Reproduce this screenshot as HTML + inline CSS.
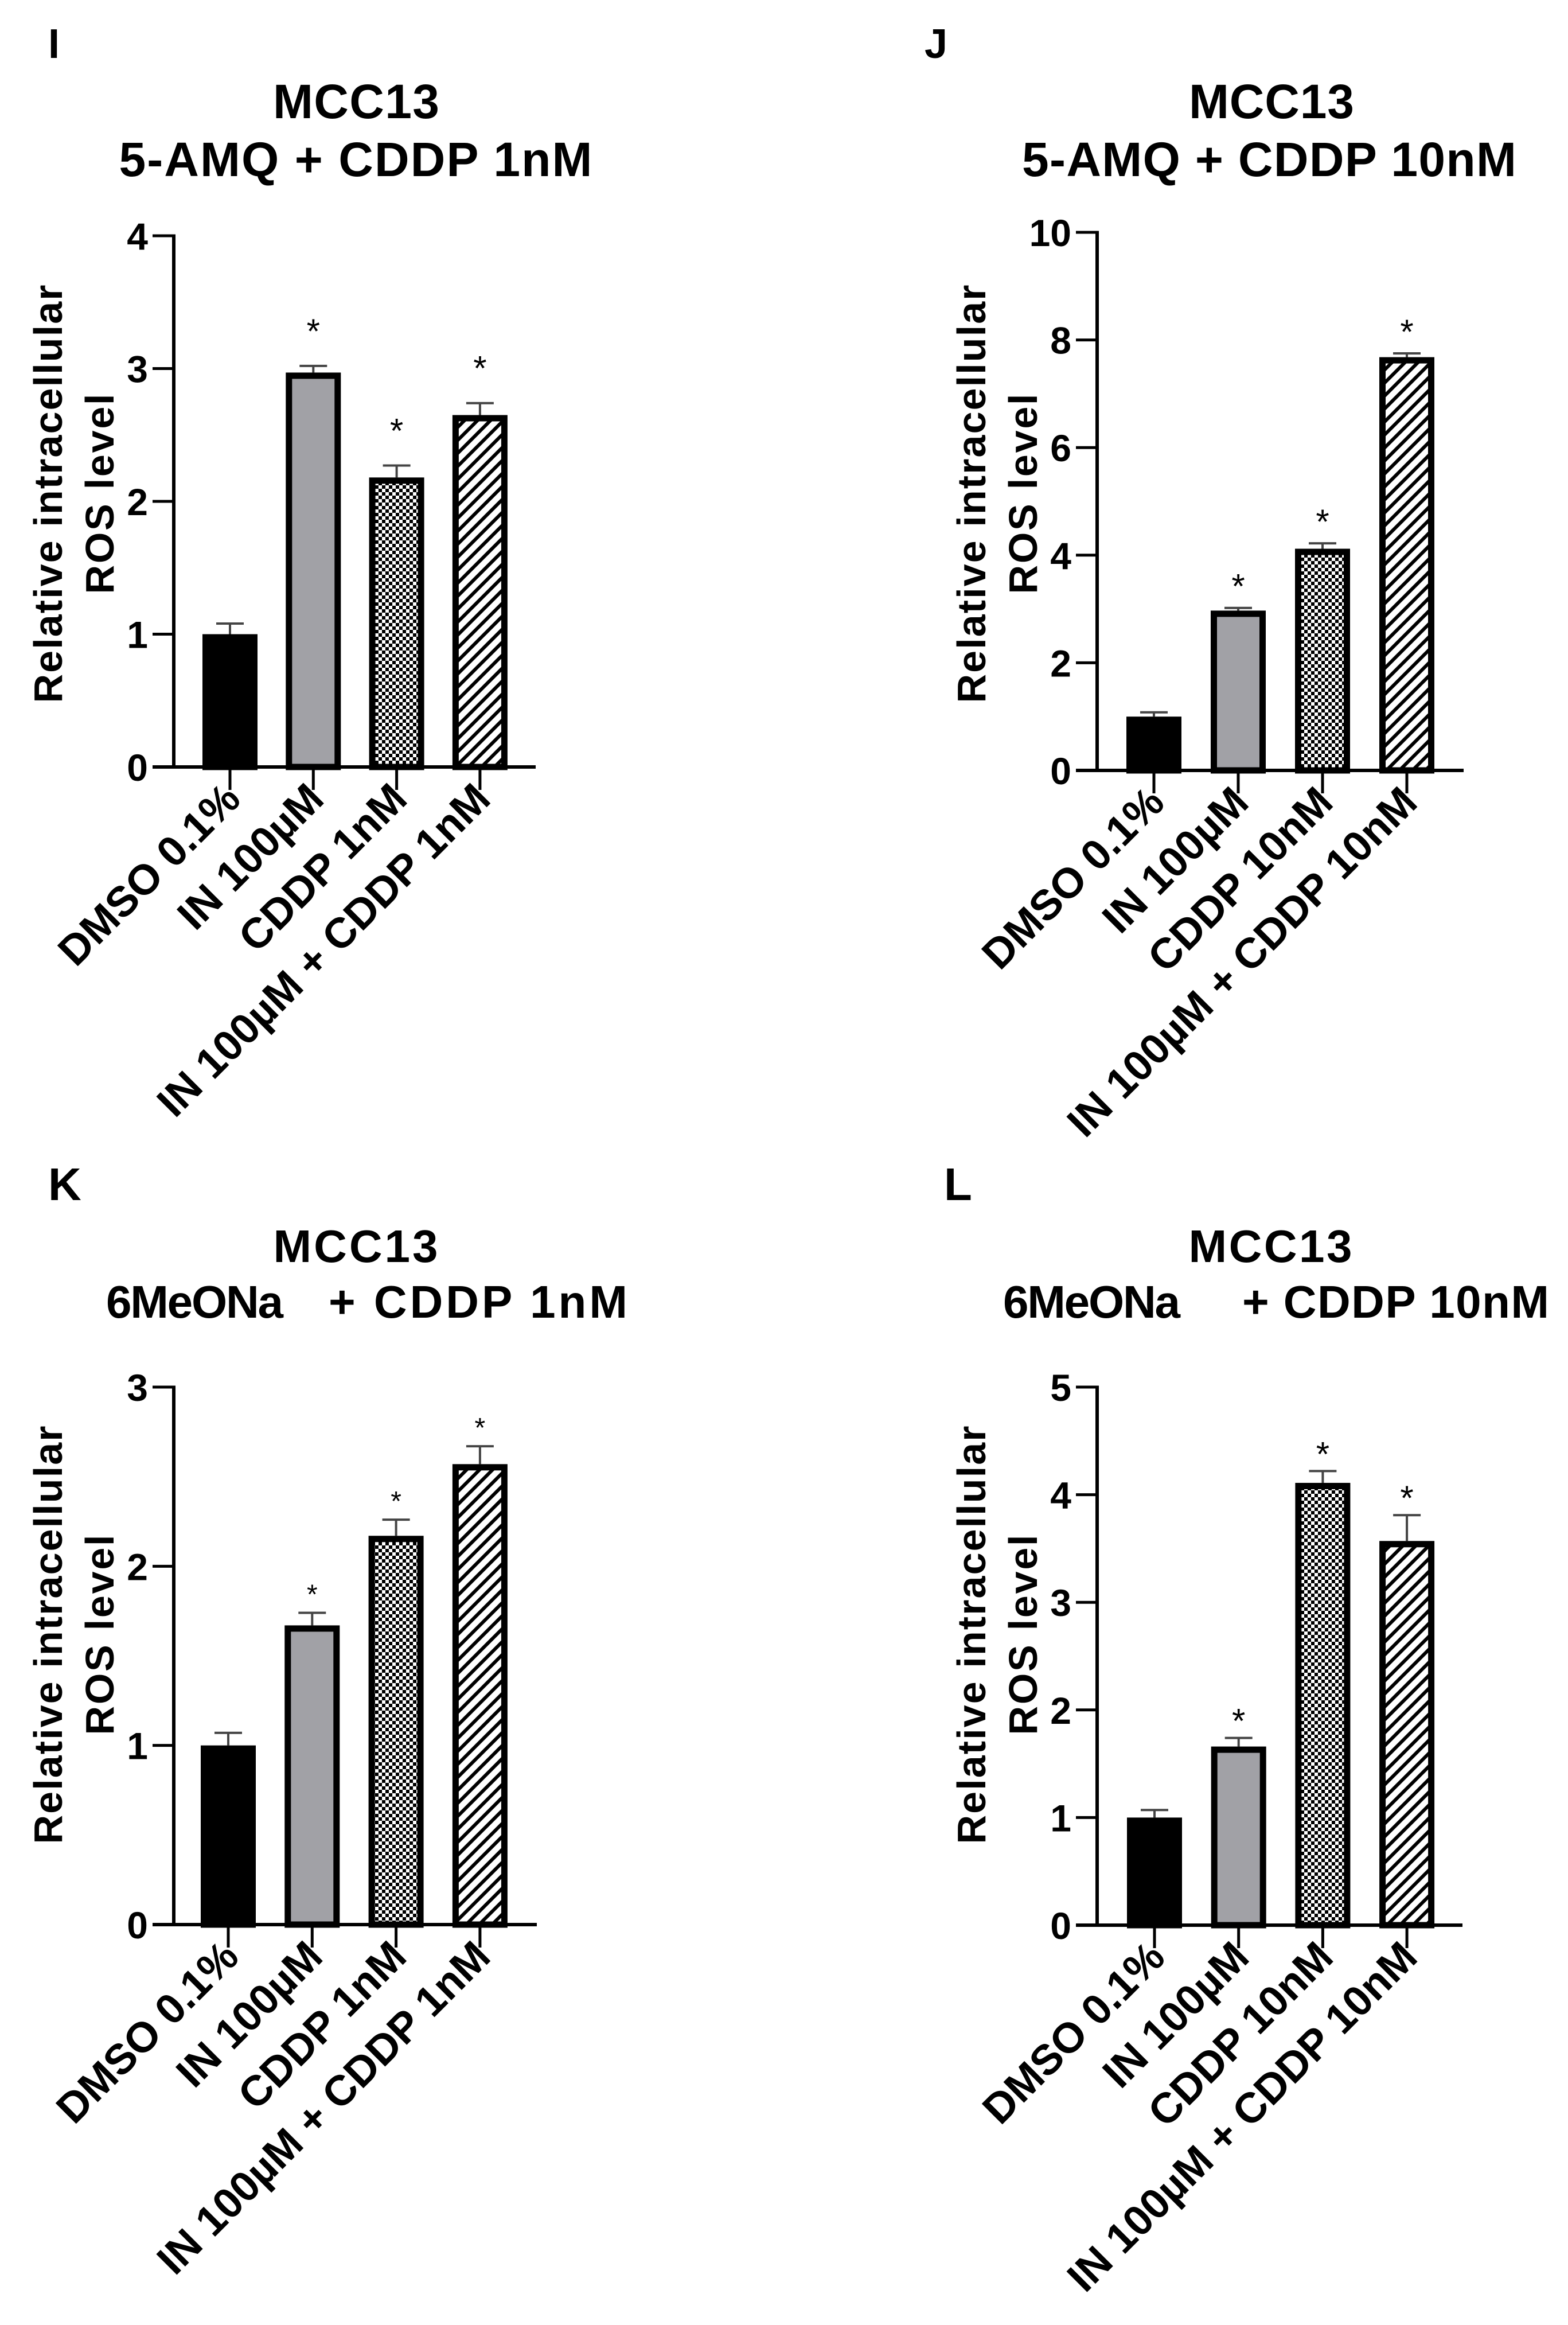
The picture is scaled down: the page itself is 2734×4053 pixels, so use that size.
<!DOCTYPE html>
<html><head><meta charset="utf-8"><style>
html,body{margin:0;padding:0;background:#fff;}
svg{display:block;font-family:"Liberation Sans",Arial,sans-serif;font-weight:bold;}
</style></head><body>
<svg id="fig" width="2734" height="4053" viewBox="0 0 2734 4053" xmlns="http://www.w3.org/2000/svg">
<defs>
<pattern id="checker" width="12" height="12" patternUnits="userSpaceOnUse">
<rect width="12" height="12" fill="#fff"/><rect width="6" height="6" fill="#000"/><rect x="6" y="6" width="6" height="6" fill="#000"/>
</pattern>
<pattern id="hatch" width="16" height="16" patternUnits="userSpaceOnUse" patternTransform="rotate(45)">
<rect width="16" height="16" fill="#fff"/><rect width="6" height="16" fill="#000"/>
</pattern>
</defs>
<g>
<text x="84" y="101" font-size="72">I</text>
<text x="621" y="206" font-size="84" text-anchor="middle" textLength="290">MCC13</text>
<text x="620" y="307" font-size="84" text-anchor="middle" textLength="825">5-AMQ + CDDP 1nM</text>
</g>
<g>
<text x="1612" y="101" font-size="72">J</text>
<text x="2217" y="206" font-size="84" text-anchor="middle" textLength="288">MCC13</text>
<text x="2213" y="307" font-size="84" text-anchor="middle" textLength="862">5-AMQ + CDDP 10nM</text>
</g>
<g>
<text x="84" y="2092" font-size="80" textLength="48">K</text>
<text x="620" y="2200" font-size="80" text-anchor="middle" textLength="287">MCC13</text>
<text x="185" y="2297" font-size="80" textLength="309">6MeONa</text>
<text x="573" y="2297" font-size="80" textLength="521">+ CDDP 1nM</text>
</g>
<g>
<text x="1646" y="2092" font-size="80" textLength="48">L</text>
<text x="2215" y="2200" font-size="80" text-anchor="middle" textLength="285">MCC13</text>
<text x="1749" y="2297" font-size="80" textLength="309">6MeONa</text>
<text x="2166" y="2297" font-size="80" textLength="535">+ CDDP 10nM</text>
</g>
</svg>
<script>
// ---- data ----
const catsI = ["DMSO 0.1%", "IN 100\u00B5M", "CDDP 1nM", "IN 100\u00B5M + CDDP 1nM"];
const catsJ = ["DMSO 0.1%", "IN 100\u00B5M", "CDDP 10nM", "IN 100\u00B5M + CDDP 10nM"];
const valsI = [1.0, 2.97, 2.18, 2.65];
const errsI = [0.08, 0.05, 0.09, 0.09];
const sigI = ["", "*", "*", "*"];
const valsJ = [1.0, 2.97, 4.12, 7.68];
const errsJ = [0.08, 0.05, 0.1, 0.07];
const sigJ = ["", "*", "*", "*"];
const valsK = [1.0, 1.67, 2.17, 2.57];
const errsK = [0.07, 0.07, 0.09, 0.1];
const sigK = ["", "*", "*", "*"];
const valsL = [1.0, 1.66, 4.11, 3.57];
const errsL = [0.07, 0.08, 0.11, 0.24];
const sigL = ["", "*", "*", "*"];
const ticksI = [0, 1, 2, 3, 4];
const ticksJ = [0, 2, 4, 6, 8, 10];
const ticksK = [0, 1, 2, 3];
const ticksL = [0, 1, 2, 3, 4, 5];

const NS = "http://www.w3.org/2000/svg";
const svg = document.getElementById("fig");
const fills = ["#000", "#a1a1a6", "url(#checker)", "url(#hatch)"];

function mk(tag, attrs, parent) {
  const e = document.createElementNS(NS, tag);
  for (const k in attrs) e.setAttribute(k, attrs[k]);
  parent.appendChild(e);
  return e;
}

function panel(id, cfg, cats, vals, errs, sig, ticks) {
  const g = mk("g", {}, svg);
  
  
  const yMax = ticks[ticks.length - 1];
  const y = v => cfg.y0 - (v / yMax) * (cfg.y0 - cfg.yTop);
  const xc = i => cfg.x0 + i * cfg.step;
  const t1 = mk("text", {x: 0, y: 0, "font-size": 70, "text-anchor": "middle", textLength: 729,
    transform: `translate(${cfg.axisX - 195},${cfg.titleY}) rotate(-90)`}, g);
  t1.textContent = "Relative intracellular";
  
  
  const t2 = mk("text", {x: 0, y: 0, "font-size": 70, "text-anchor": "middle", textLength: 349,
    transform: `translate(${cfg.axisX - 105},${cfg.titleY}) rotate(-90)`}, g);
  t2.textContent = "ROS level";
  
  
  const ya = mk("line", {x1: cfg.axisX, y1: cfg.yTop - 2.5, x2: cfg.axisX, y2: cfg.y0, stroke: "#000", "stroke-width": 6}, g);
  
  
  const xa = mk("line", {x1: cfg.axisX - 37, y1: cfg.y0, x2: cfg.xEnd, y2: cfg.y0, stroke: "#000", "stroke-width": 6}, g);
  
  
  ticks.forEach(t => {
    const tl = mk("line", {x1: cfg.axisX - 37, y1: y(t), x2: cfg.axisX, y2: y(t), stroke: "#000", "stroke-width": 5}, g);
    
    
    const lb = mk("text", {x: cfg.axisX - 45, y: y(t) + 24, "font-size": 66, "text-anchor": "end"}, g);
    lb.textContent = String(t);
    
    
  });
  vals.forEach((v, i) => {
    const cx = xc(i);
    const top = y(v), et = y(v + errs[i]);
    const el = mk("line", {x1: cx, y1: top, x2: cx, y2: et, stroke: "#444", "stroke-width": 4}, g);
    
    
    const ec = mk("line", {x1: cx - 24, y1: et, x2: cx + 24, y2: et, stroke: "#444", "stroke-width": 4}, g);
    
    
    const r = mk("rect", {x: cx - 48 + 5.5, y: top + 5.5, width: 85, height: Math.max(0, cfg.y0 - top - 5.5),
      fill: fills[i], stroke: "#000", "stroke-width": 11}, g);
    
    
    if (sig[i]) {
      const s = mk("text", {x: cx, y: et - cfg.starOff, "font-size": cfg.starSize, "font-weight": "normal", "text-anchor": "middle"}, g);
      s.textContent = sig[i];
      
      
    }
    const xt = mk("line", {x1: cx, y1: cfg.y0, x2: cx, y2: cfg.y0 + 40, stroke: "#000", "stroke-width": 5}, g);
    
    
    const ax = cx + 22, ay = cfg.y0 + 60;
    const xl = mk("text", {x: 0, y: 0, "font-size": 74, "text-anchor": "end",
      transform: `translate(${ax},${ay}) rotate(-45)`}, g);
    xl.textContent = cats[i];
    
    
  });
}

panel("i", {axisX: 303, yTop: 411, y0: 1337, xEnd: 934, x0: 401, step: 145.3, titleY: 861, starOff: 40, starSize: 60}, catsI, valsI, errsI, sigI, ticksI);
panel("j", {axisX: 1913, yTop: 405, y0: 1343, xEnd: 2552, x0: 2012, step: 147, titleY: 861, starOff: 17, starSize: 60}, catsJ, valsJ, errsJ, sigJ, ticksJ);
panel("k", {axisX: 303, yTop: 2418, y0: 3355, xEnd: 936, x0: 398, step: 146.3, titleY: 2850, starOff: 16, starSize: 48}, catsI, valsK, errsK, sigK, ticksK);
panel("l", {axisX: 1913, yTop: 2418, y0: 3356, xEnd: 2550, x0: 2013, step: 146.7, titleY: 2850, starOff: 9, starSize: 60}, catsJ, valsL, errsL, sigL, ticksL);
</script>
</body></html>
